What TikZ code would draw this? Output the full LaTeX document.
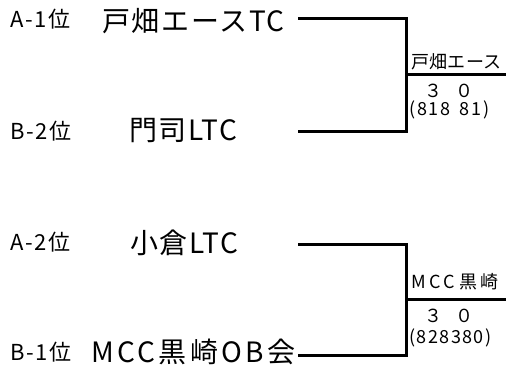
\documentclass[tikz,border=0pt]{standalone}
\usepackage{fontspec}
\setmainfont{Noto Sans CJK JP}
\newcommand{\LX}{298}
\newcommand{\JX}{406}
\newcommand{\EX}{506}
\newcommand{\LS}[1]{\addfontfeature{LetterSpace=#1}}

\begin{document}
\begin{tikzpicture}[x=1pt,y=-1pt,
        rank/.style={anchor=west,inner sep=0pt,
            font=\fontsize{22}{22}\selectfont\LS{8}},
        team/.style={anchor=west,inner sep=0pt,
            font=\fontsize{28}{28}\selectfont\LS{6}},
        win/.style={anchor=west,inner sep=0pt,
            font=\fontsize{18}{18}\selectfont\LS{2}},
        bracket/.style={line width=3pt}]
        \useasboundingbox (0,0) rectangle (506,369);

        % rank labels
        \path (10,19) node[rank] (rA1) {A-1位};
        \path (10,131) node[rank] (rB2) {B-2位};
        \path (10,242) node[rank] (rA2) {A-2位};
        \path (10,352) node[rank] (rB1) {B-1位};

        % teams
        \path (102,21) node[team] (tA1) {戸畑エースTC};
        \path (129,131) node[team] (tB2) {門司LTC};
        \path (130,243) node[team] (tA2) {小倉LTC};
        \path (91,352) node[team] (tB1) {\LS{12}MCC黒崎OB会};

        % line ends
        \path (\LX,19) coordinate (s1);
        \path (\LX,131) coordinate (s2);
        \path (\JX,75) coordinate (j1);
        \path (\EX,75) coordinate (e1);
        \path (\LX,244) coordinate (s3);
        \path (\LX,355) coordinate (s4);
        \path (\JX,299) coordinate (j2);
        \path (\EX,299) coordinate (e2);

        \foreach \A/\B/\J/\E in {s1/s2/j1/e1, s3/s4/j2/e2} {
            \draw [bracket] (\A) -- (\A -| \J) -- (\B -| \J) -- (\B);
            \draw [bracket] (\J) -- (\E);
        }

        % match 1
        \path (411,62) node[win] (w1) {戸畑エース};
        \path (424,91) node[win] (c1) {\LS{-12}３　０};
        \path (409,110) node[win] (p1) {\LS{10}(818 \kern3pt81)};

        % match 2
        \path (411,282) node[win] (w2) {\LS{20}MCC黒崎};
        \path (424,316) node[win] (c2) {\LS{-12}３　０};
        \path (409,338) node[win] (p2) {\LS{8}(828380)};

    \end{tikzpicture}
\end{document}
